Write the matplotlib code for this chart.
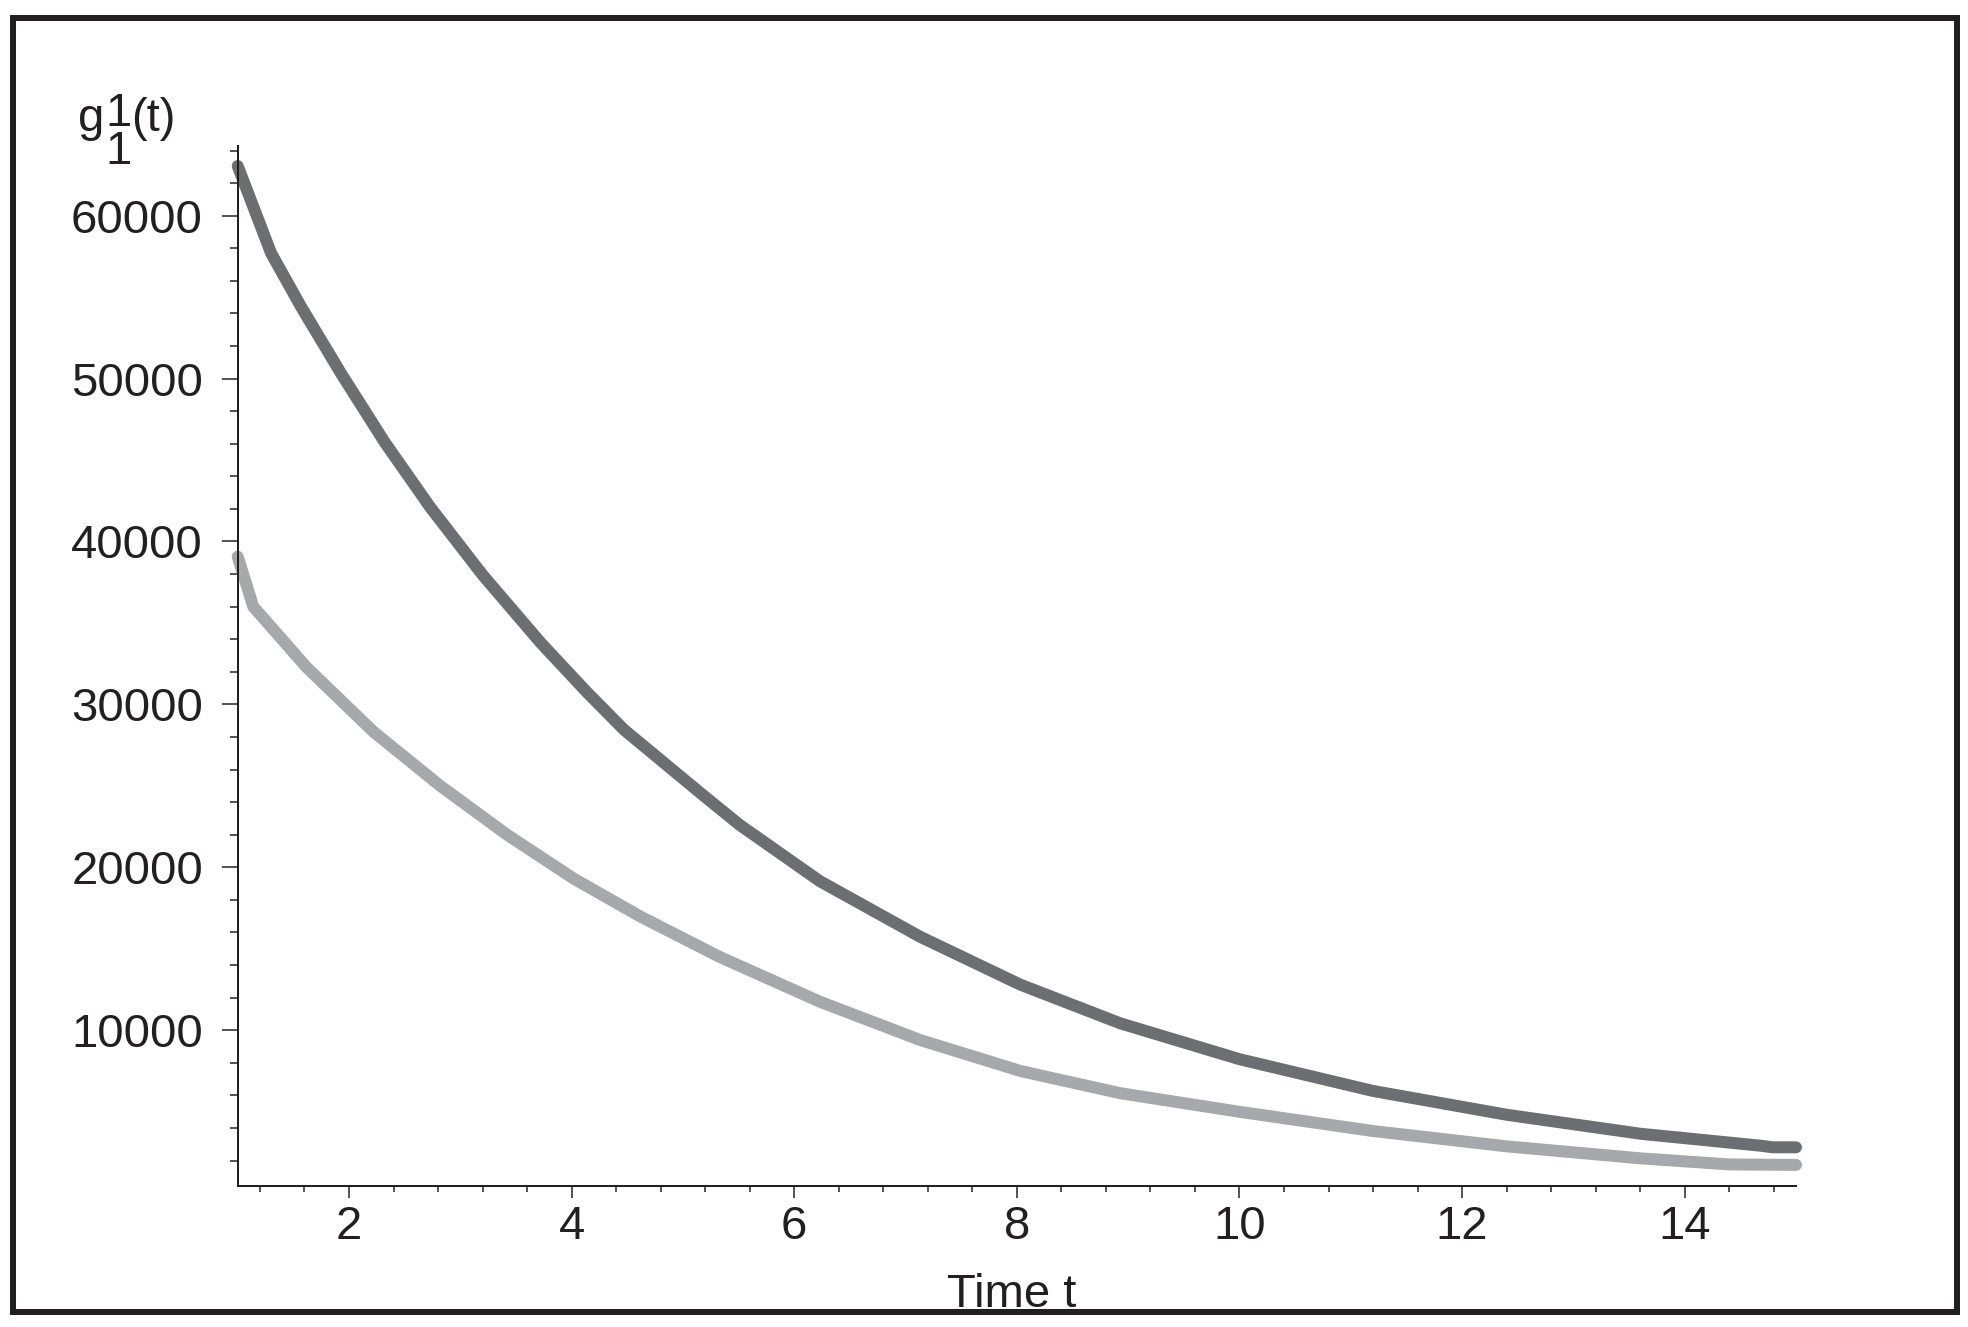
import matplotlib
matplotlib.use("Agg")
import matplotlib.pyplot as plt
from matplotlib.patches import Rectangle
from matplotlib.ticker import FixedLocator, NullFormatter
import numpy as np

# ---------------- data ----------------
t_dark = [1.0, 1.30, 1.57, 1.93, 2.32, 2.73, 3.20, 3.72, 4.13, 4.47, 5.15, 5.51,
          6.23, 7.13, 8.03, 8.93, 10.0, 11.2, 12.4, 13.6, 14.68, 14.79, 15.0]
g_dark = [63050, 57700, 54400, 50300, 46100, 42100, 37950, 33800, 30800, 28450,
          24600, 22600, 19150, 15740, 12800, 10420, 8220, 6270, 4810, 3645,
          2910, 2811, 2811]

t_light = [1.0, 1.14, 1.62, 2.22, 2.82, 3.42, 4.02, 4.62, 5.33, 6.23, 7.13,
           8.03, 8.93, 10.0, 11.2, 12.4, 13.6, 14.4, 15.0]
g_light = [39070, 36000, 32270, 28320, 25000, 22000, 19300, 16970, 14500, 11750,
           9400, 7500, 6130, 4990, 3810, 2870, 2135, 1760, 1730]

x_major = [2, 4, 6, 8, 10, 12, 14]
y_major = [10000, 20000, 30000, 40000, 50000, 60000]
y_major_labels = ["10000", "20000", "30000", "40000", "50000", "60000"]
x_label = "Time t"

# ---------------- style ----------------
W, H, DPI = 1968, 1327, 100
INK = "#231f20"
DARK = "#6d6e71"
LIGHT = "#a7a8ab"
FONT = "Liberation Sans"
FS = 34

plt.rcParams["font.family"] = [FONT, "DejaVu Sans"]

fig = plt.figure(figsize=(W / DPI, H / DPI), dpi=DPI)
fig.patch.set_facecolor("white")

def fx(px):
    return px / W

def fy(py):
    return 1 - py / H

left, right, top, bottom = 237.7, 1796.0, 145.7, 1185.7
ax = fig.add_axes([fx(left), fy(bottom), fx(right) - fx(left), fy(top) - fy(bottom)])

lw = 12 * 72 / DPI
ax.plot(t_dark, g_dark, color=DARK, lw=lw, solid_capstyle="round",
        solid_joinstyle="round", clip_on=False, zorder=2)
ax.plot(t_light, g_light, color=LIGHT, lw=lw, solid_capstyle="round",
        solid_joinstyle="round", clip_on=False, zorder=2)

ax.set_xlim(1, 15)
ax.set_ylim(454, 64297)

for s in ["top", "right"]:
    ax.spines[s].set_visible(False)
for s in ["left", "bottom"]:
    ax.spines[s].set_color(INK)
    ax.spines[s].set_linewidth(2 * 72 / DPI)

ax.xaxis.set_major_locator(FixedLocator(x_major))
ax.xaxis.set_minor_locator(FixedLocator([v for v in np.round(np.arange(1.2, 15.0, 0.4), 2)
                                         if abs(v / 2 - round(v / 2)) > 1e-6]))
ax.yaxis.set_major_locator(FixedLocator(y_major))
ax.set_yticklabels(y_major_labels)
ax.yaxis.set_minor_locator(FixedLocator([v for v in range(2000, 64001, 2000) if v % 10000]))
ax.xaxis.set_minor_formatter(NullFormatter())
ax.yaxis.set_minor_formatter(NullFormatter())

ax.tick_params(axis="x", which="major", direction="out", length=12 * 72 / DPI,
               width=1.5 * 72 / DPI, color=INK, labelsize=FS, labelcolor=INK, pad=5)
ax.tick_params(axis="x", which="minor", direction="out", length=6 * 72 / DPI,
               width=1.5 * 72 / DPI, color=INK)
ax.tick_params(axis="y", which="major", direction="out", length=16 * 72 / DPI,
               width=1.5 * 72 / DPI, color=INK, labelsize=FS, labelcolor=INK, pad=13.5)
ax.tick_params(axis="y", which="minor", direction="out", length=8 * 72 / DPI,
               width=1.5 * 72 / DPI, color=INK)

# y label g_1^1(t) with full-size stacked indices
kw = dict(fontsize=FS, color=INK, family=FONT, transform=fig.transFigure)
fig.text(fx(78.5), fy(131), "g", ha="left", va="baseline", **kw)
fig.text(fx(105), fy(91.5), "1\n1", ha="left", va="top", linespacing=0.85, **kw)
fig.text(fx(131.5), fy(131), "(t)", ha="left", va="baseline", **kw)

# x label
fig.text(fx(1012), fy(1307), x_label, ha="center", va="baseline", zorder=1, **kw)

# outer frame
fig.patches.append(Rectangle((fx(13), fy(1312)), fx(1957) - fx(13), fy(18) - fy(1312),
                             transform=fig.transFigure, fill=False, edgecolor=INK,
                             linewidth=6 * 72 / DPI, zorder=10))

fig.savefig("out.png", dpi=DPI, facecolor="white")
